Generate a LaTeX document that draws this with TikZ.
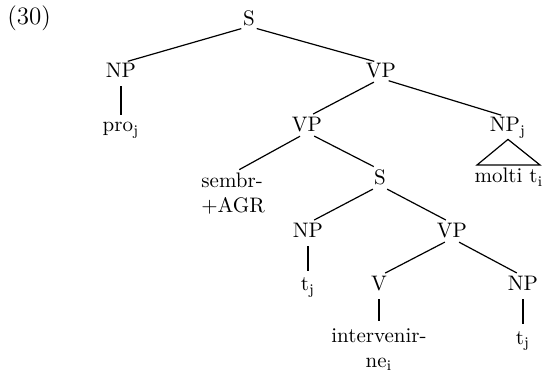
\documentclass[tikz,border=0pt]{standalone}
\usetikzlibrary{positioning}

\begin{document}
\begin{tikzpicture}[x=0.5pt, y=-0.5pt,
    tree node/.style={anchor=base, inner sep=0pt, text depth=0pt, font=\fontsize{10.5}{12.5}\selectfont},
    tree edge/.style={line width=0.6pt, shorten <=4pt, shorten >=3.5pt}]
    \useasboundingbox (0,0) rectangle (544,378);

    \node[anchor=base west, inner sep=0pt, font=\fontsize{12.5}{15}\selectfont] (num) at (7,25) {(30)};

    \node[tree node] (s) at (249,26) {S};
    \node[tree node] (np) at (121,78) {NP};
    \node[tree node] (pro) at (121,132) {pro\textsubscript{j}};
    \node[tree node] (vp) at (381,78) {VP};
    \node[tree node] (vpmid) at (307,132) {VP};
    \node[tree node] (npj) at (508,132) {NP\textsubscript{j}};
    \node[tree node] (molti) at (509,183) {molti t\textsubscript{i}};
    \node[tree node, anchor=base west, align=left] (sembr) at (201,213) {sembr-\\+AGR};
    \node[tree node] (smid) at (380,185) {S};
    \node[tree node] (nplow) at (308,238) {NP};
    \node[tree node] (tleft) at (308,291) {t\textsubscript{j}};
    \node[tree node] (vplow) at (452,238) {VP};
    \node[tree node] (v) at (379,291) {V};
    \node[tree node, align=center] (interv) at (379,367) {intervenir-\\ne\textsubscript{i}};
    \node[tree node] (npright) at (523,291) {NP};
    \node[tree node] (tright) at (523,344) {t\textsubscript{j}};

    \coordinate (tri top) at ([yshift=-3.5pt]npj.south);
    \coordinate (tri left) at (477,165);
    \coordinate (tri right) at (540,165);

    \draw[tree edge] (s.south) -- (np.north);
    \draw[tree edge] (s.south) -- (vp.north);
    \draw[tree edge] (np.south) -- (pro.north);
    \draw[tree edge] (vp.south) -- (vpmid.north);
    \draw[tree edge] (vp.south) -- (npj.north);
    \draw[line width=0.6pt] (tri top) -- (tri left) -- (tri right) -- cycle;
    \draw[tree edge] (vpmid.south) -- (sembr.north);
    \draw[tree edge] (vpmid.south) -- (smid.north);
    \draw[tree edge] (smid.south) -- (nplow.north);
    \draw[tree edge] (smid.south) -- (vplow.north);
    \draw[tree edge] (nplow.south) -- (tleft.north);
    \draw[tree edge] (vplow.south) -- (v.north);
    \draw[tree edge] (vplow.south) -- (npright.north);
    \draw[tree edge] (v.south) -- (interv.north);
    \draw[tree edge] (npright.south) -- (tright.north);
\end{tikzpicture}
\end{document}
